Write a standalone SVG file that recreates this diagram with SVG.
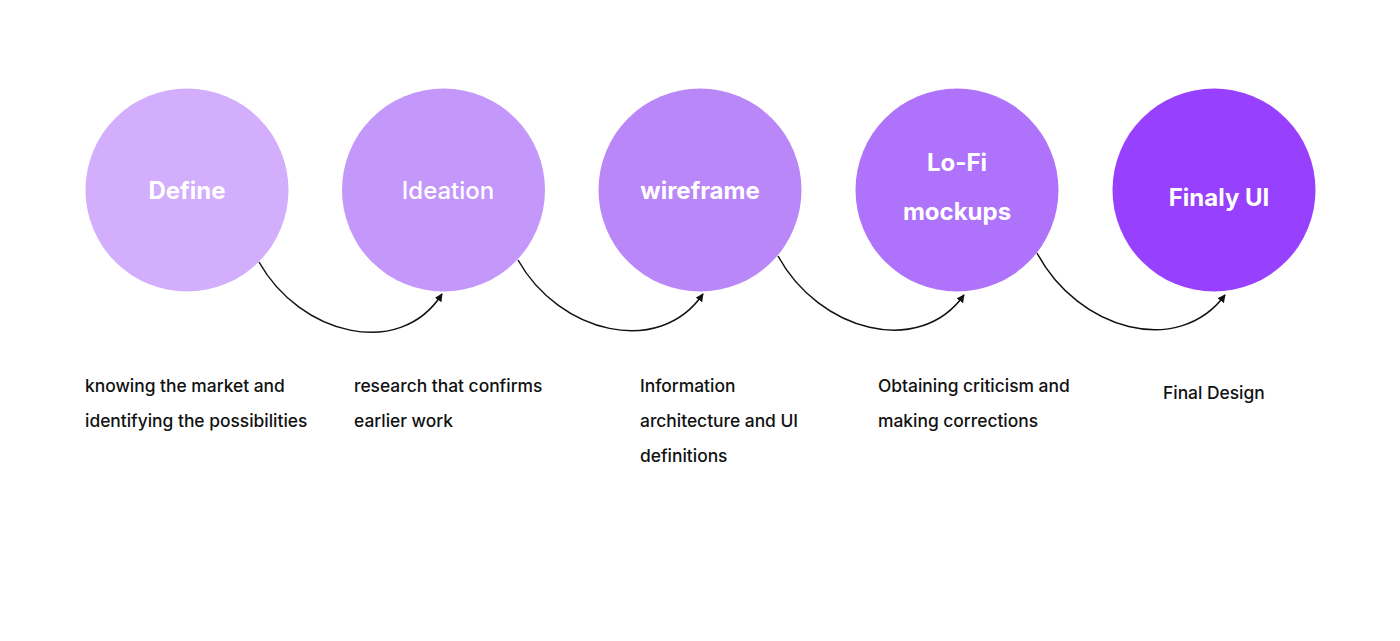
<svg xmlns="http://www.w3.org/2000/svg" width="1400" height="641" viewBox="0 0 1400 641">
<style>
.lbl{font-family:Inter,"Liberation Sans",sans-serif;font-weight:700;font-size:24px;fill:#fff;text-anchor:middle}
.desc{font-family:Inter,"Liberation Sans",sans-serif;font-size:17.4px;font-weight:500;fill:#111}
.con{fill:none;stroke:#111;stroke-width:1.5}
</style>
<defs>
<marker id="ah" viewBox="0 0 10 10" refX="9" refY="5" markerWidth="8" markerHeight="8" orient="auto" markerUnits="userSpaceOnUse">
<path d="M0,0 L10,5 L0,10 Z" fill="#111"/>
</marker>
</defs>
<rect width="1400" height="641" fill="#fff"/>
<g id="connectors">
<path class="con" marker-end="url(#ah)" d="M259,262 C300,335 400,360 442,294"/>
<path class="con" marker-end="url(#ah)" d="M518,260 C559,333 659,358 703,294"/>
<path class="con" marker-end="url(#ah)" d="M778,256 C819,331 919,358 964,295"/>
<path class="con" marker-end="url(#ah)" d="M1037,253 C1078,330 1178,358 1225,295"/>
</g>
<g id="define">
<circle cx="187" cy="190" r="101.5" fill="#D2AEFC"/>
<text class="lbl" x="187" y="199">Define</text>
</g>
<g id="ideation">
<circle cx="443.5" cy="190" r="101.5" fill="#C498FA"/>
<text class="lbl" x="448" y="199" style="font-weight:500">Ideation</text>
</g>
<g id="wireframe">
<circle cx="700" cy="190" r="101.5" fill="#BA87F9"/>
<text class="lbl" x="700" y="199">wireframe</text>
</g>
<g id="lofi">
<circle cx="957" cy="190" r="101.5" fill="#AF72FB"/>
<text class="lbl" x="957" y="171">Lo-Fi</text>
<text class="lbl" x="957" y="220">mockups</text>
</g>
<g id="final">
<circle cx="1214" cy="190" r="101.5" fill="#9740FE"/>
<text class="lbl" x="1219" y="206">Finaly UI</text>
</g>
<g id="descriptions">
<text class="desc" x="85" y="392">knowing the market and</text>
<text class="desc" x="85" y="427">identifying the possibilities</text>
<text class="desc" x="354" y="392">research that confirms</text>
<text class="desc" x="354" y="427">earlier work</text>
<text class="desc" x="640" y="392">Information</text>
<text class="desc" x="640" y="427">architecture and UI</text>
<text class="desc" x="640" y="462">definitions</text>
<text class="desc" x="878" y="392">Obtaining criticism and</text>
<text class="desc" x="878" y="427">making corrections</text>
<text class="desc" x="1163" y="399">Final Design</text>
</g>
</svg>
